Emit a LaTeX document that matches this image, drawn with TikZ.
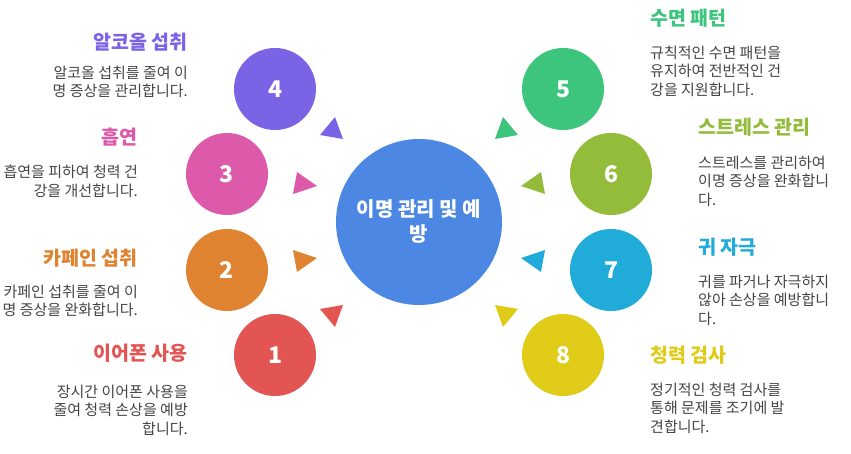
\documentclass[tikz,border=0pt]{standalone}
\usepackage{fontspec}
\newfontfamily\kr{Noto Sans CJK KR}
\definecolor{cmain}{HTML}{4C88E3}
\definecolor{cone}{HTML}{E25553}
\definecolor{ctwo}{HTML}{E08330}
\definecolor{cthree}{HTML}{DD59A9}
\definecolor{cfour}{HTML}{7B63E6}
\definecolor{cfive}{HTML}{3DC57E}
\definecolor{csix}{HTML}{93BC3B}
\definecolor{cseven}{HTML}{20ABD9}
\definecolor{ceight}{HTML}{E0CB18}
\definecolor{bodygray}{HTML}{444444}
\tikzset{
  numcirc/.style={circle, minimum size=82pt, inner sep=0, text=white, font=\kr\bfseries\fontsize{23}{26}\selectfont},
  maincirc/.style={circle, minimum size=166pt, inner sep=0, fill=cmain, text=white, align=center, font=\kr\bfseries\fontsize{20}{25}\selectfont},
  ttl/.style={inner sep=0, font=\kr\bfseries\fontsize{19.5}{22}\selectfont},
  bodytxt/.style={inner sep=0, text=bodygray, font=\kr\fontsize{15}{18.3}\selectfont},
}
\begin{document}
\begin{tikzpicture}[x=1pt,y=-1pt]
\useasboundingbox (0,0) rectangle (851,453);
\node[maincirc] (c) at (419,222) {이명 관리 및 예\\방};
\node[numcirc, fill=cfour] (n4) at (275,89) {4};
\node[numcirc, fill=cthree] (n3) at (227,174) {3};
\node[numcirc, fill=ctwo] (n2) at (227,270) {2};
\node[numcirc, fill=cone] (n1) at (275,355) {1};
\node[numcirc, fill=cfive] (n5) at (563,89) {5};
\node[numcirc, fill=csix] (n6) at (611,174) {6};
\node[numcirc, fill=cseven] (n7) at (611,270) {7};
\node[numcirc, fill=ceight] (n8) at (563,355) {8};
\begin{scope}[shift={(c.center)}]
\fill[cfour] (-99,-87) -- (-84,-105) -- (-76,-83) -- cycle;
\fill[cthree] (-122,-50) -- (-102,-36) -- (-126,-28) -- cycle;
\fill[ctwo] (-122,50) -- (-102,36) -- (-126,28) -- cycle;
\fill[cone] (-99,87) -- (-84,105) -- (-76,83) -- cycle;
\fill[cfive] (99,-87) -- (84,-105) -- (76,-83) -- cycle;
\fill[csix] (122,-50) -- (102,-36) -- (126,-28) -- cycle;
\fill[cseven] (122,50) -- (102,36) -- (126,28) -- cycle;
\fill[ceight] (99,87) -- (84,105) -- (76,83) -- cycle;
\end{scope}
% left side
\node[ttl, text=cfour, anchor=east] (t4) at (188,42) {알코올 섭취};
\node[bodytxt, anchor=north east, align=right] (b4) at (188,66) {알코올 섭취를 줄여 이\\명 증상을 관리합니다.};
\node[ttl, text=cthree, anchor=east] (t3) at (138,137) {흡연};
\node[bodytxt, anchor=north east, align=right] (b3) at (138,165) {흡연을 피하여 청력 건\\강을 개선합니다.};
\node[ttl, text=ctwo, anchor=east] (t2) at (138,258) {카페인 섭취};
\node[bodytxt, anchor=north east, align=right] (b2) at (138,285) {카페인 섭취를 줄여 이\\명 증상을 완화합니다.};
\node[ttl, text=cone, anchor=east] (t1) at (188,353) {이어폰 사용};
\node[bodytxt, anchor=north east, align=right] (b1) at (188,385) {장시간 이어폰 사용을\\줄여 청력 손상을 예방\\합니다.};
% right side
\node[ttl, text=cfive, anchor=west] (t5) at (650,18) {수면 패턴};
\node[bodytxt, anchor=north west, align=left] (b5) at (650,46) {규칙적인 수면 패턴을\\유지하여 전반적인 건\\강을 지원합니다.};
\node[ttl, text=csix, anchor=west] (t6) at (698,127) {스트레스 관리};
\node[bodytxt, anchor=north west, align=left] (b6) at (698,156) {스트레스를 관리하여\\이명 증상을 완화합니\\다.};
\node[ttl, text=cseven, anchor=west] (t7) at (698,247) {귀 자극};
\node[bodytxt, anchor=north west, align=left] (b7) at (698,275) {귀를 파거나 자극하지\\않아 손상을 예방합니\\다.};
\node[ttl, text=ceight, anchor=west] (t8) at (650,355) {청력 검사};
\node[bodytxt, anchor=north west, align=left] (b8) at (650,383) {정기적인 청력 검사를\\통해 문제를 조기에 발\\견합니다.};
\end{tikzpicture}
\end{document}
